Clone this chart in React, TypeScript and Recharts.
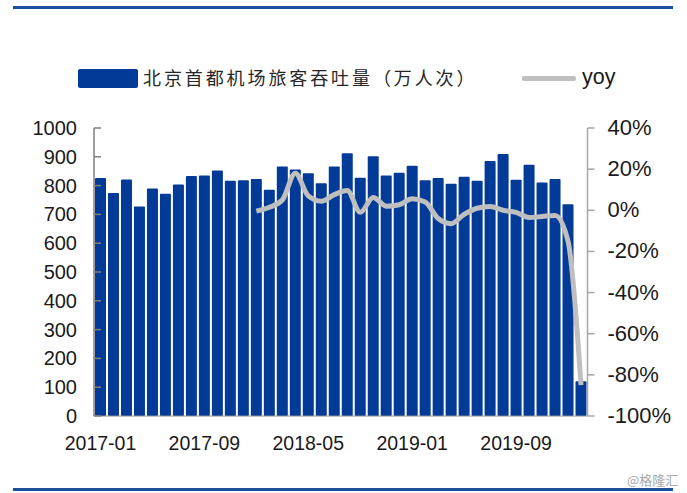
import React from "react";
import { ComposedChart, Bar, Line, XAxis, YAxis, Legend } from "recharts";

const months = [
  "2017-01", "2017-02", "2017-03", "2017-04", "2017-05", "2017-06", "2017-07", "2017-08",
  "2017-09", "2017-10", "2017-11", "2017-12", "2018-01", "2018-02", "2018-03", "2018-04",
  "2018-05", "2018-06", "2018-07", "2018-08", "2018-09", "2018-10", "2018-11", "2018-12",
  "2019-01", "2019-02", "2019-03", "2019-04", "2019-05", "2019-06", "2019-07", "2019-08",
  "2019-09", "2019-10", "2019-11", "2019-12", "2020-01", "2020-02",
];
const passengers = [
  826, 774, 821, 727, 790, 772, 804, 833, 835, 852, 817, 819, 823, 786, 866, 856, 843, 808, 866,
  912, 827, 902, 835, 845, 869, 819, 826, 806, 831, 817, 885, 910, 820, 872, 811, 823, 735, 121,
];
const yoy = [
  null, null, null, null, null, null, null, null, null, null, null, null,
  -0.4, 1.5, 5, 18, 7, 4.4, 7.6, 9.6, -1, 6.2, 2, 2.7, 5.6, 4, -4, -6.5, -2, 1, 1.9, 0, -1, -3.5,
  -3, -2.5, -15, -85,
];
const leftTicks = [0, 100, 200, 300, 400, 500, 600, 700, 800, 900, 1000];
const rightTicks = [-100, -80, -60, -40, -20, 0, 20, 40];

const BLUE = "#023a98";
const GREY = "#bfbfbf";
const RULE = "#1c4f9e";
const FONT = "'Liberation Sans', Arial, sans-serif";

const rows = months.map((month, i) => ({ month, passengers: passengers[i], yoy: yoy[i] }));

const LeftTick = ({ x, y, payload }: any) => (
  <g>
    <line x1={x + 8} x2={x + 15} y1={y} y2={y} stroke="#7f7f7f" strokeWidth={1.5} />
    <text x={x - 9} y={y + 7} textAnchor="end" fontSize={20} fill="#1a1a1a" fontFamily={FONT}>
      {payload.value}
    </text>
  </g>
);

const RightTick = ({ x, y, payload }: any) => (
  <g>
    <line x1={x - 8} x2={x - 1} y1={y} y2={y} stroke="#a6a6a6" strokeWidth={1.5} />
    <text x={x + 12} y={y + 7} fontSize={22} fill="#1a1a1a" fontFamily={FONT}>
      {payload.value}%
    </text>
  </g>
);

const LegendBox = () => (
  <div style={{ height: 0, position: "relative" }}>
    <div style={{ position: "absolute", left: 78, top: 69, width: 60, height: 19, background: BLUE, borderRadius: 2 }} />
    <div
      style={{
        position: "absolute",
        left: 143,
        top: 64,
        fontSize: 18,
        letterSpacing: 2.9,
        whiteSpace: "nowrap",
        color: "#262626",
        fontFamily: "'Noto Sans CJK SC', sans-serif",
      }}
    >
      北京首都机场旅客吞吐量（万人次）
    </div>
    <div style={{ position: "absolute", left: 522, top: 76, width: 54, height: 5, background: GREY, borderRadius: 2 }} />
    <div style={{ position: "absolute", left: 582, top: 65, fontSize: 21.5, color: "#1a1a1a", fontFamily: FONT }}>yoy</div>
  </div>
);

export default function App() {
  return (
    <div style={{ position: "absolute", left: 0, top: 0, width: 687, height: 493, background: "#fff", overflow: "hidden" }}>
      <div style={{ position: "absolute", left: 13, top: 6, width: 660, height: 2.5, background: RULE }} />
      <div style={{ position: "absolute", left: 13, top: 488, width: 660, height: 2.5, background: RULE }} />
      <div style={{ position: "absolute", left: 627, top: 470, fontSize: 13, color: "#a8a8a8", fontFamily: "'Noto Sans CJK SC', sans-serif" }}>
        @格隆汇
      </div>
      <ComposedChart
        width={687}
        height={493}
        data={rows}
        barCategoryGap={1}
        margin={{ top: 128, right: 0, bottom: 0, left: 0 }}
      >
        <Legend content={<LegendBox />} wrapperStyle={{ left: 0, top: 0, width: 687 }} />
        <XAxis
          dataKey="month"
          interval={7}
          height={77}
          tickLine={false}
          axisLine={{ stroke: "#8c8c8c" }}
          tick={{ fontSize: 19.5, fill: "#1a1a1a", fontFamily: FONT }}
          tickMargin={14}
        />
        <YAxis
          yAxisId="left"
          width={94}
          domain={[0, 1000]}
          ticks={leftTicks}
          interval={0}
          tickLine={false}
          axisLine={{ stroke: "#7f7f7f", strokeWidth: 1.5 }}
          tick={<LeftTick />}
        />
        <YAxis
          yAxisId="right"
          orientation="right"
          width={99.5}
          domain={[-100, 40]}
          ticks={rightTicks}
          interval={0}
          tickLine={false}
          axisLine={{ stroke: "#a6a6a6", strokeWidth: 1.5 }}
          tick={<RightTick />}
        />
        <Bar yAxisId="left" dataKey="passengers" fill={BLUE} radius={1} isAnimationActive={false} />
        <Line
          yAxisId="right"
          type="monotone"
          dataKey="yoy"
          stroke={GREY}
          strokeWidth={5}
          dot={false}
          connectNulls={false}
          isAnimationActive={false}
        />
      </ComposedChart>
    </div>
  );
}
